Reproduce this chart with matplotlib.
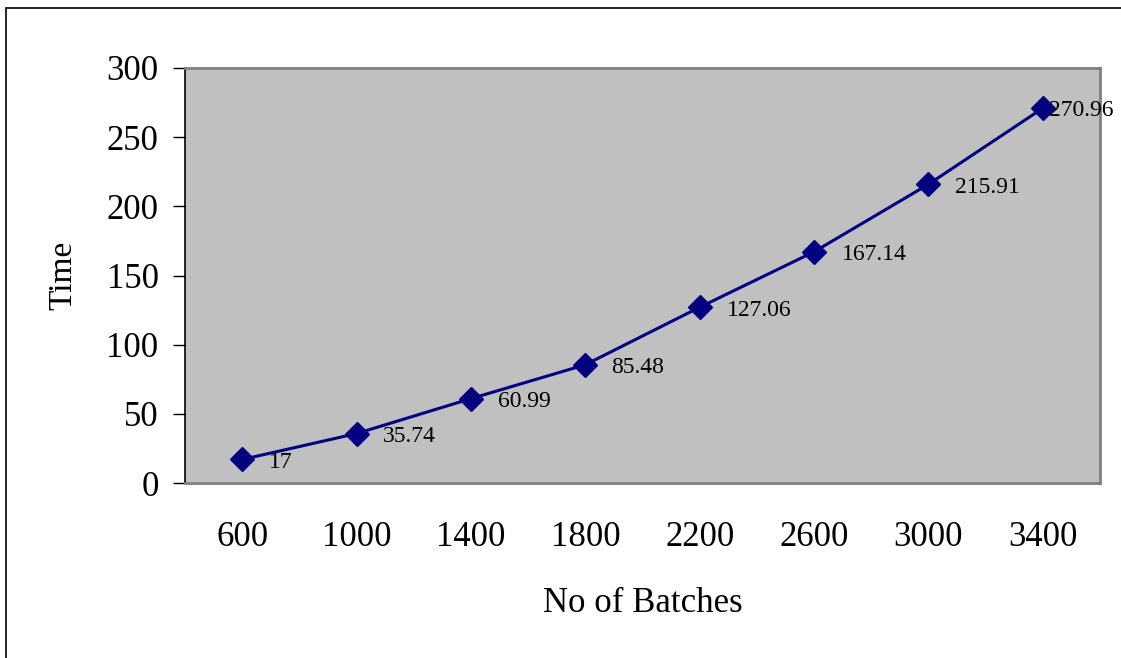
#! /usr/bin/env python3

import matplotlib
matplotlib.use('Agg')
import matplotlib.pyplot as plt
from matplotlib.patches import Rectangle

batches = ['600', '1000', '1400', '1800', '2200', '2600', '3000', '3400']
times = [17, 35.74, 60.99, 85.48, 127.06, 167.14, 215.91, 270.96]
labels = ['17', '35.74', '60.99', '85.48', '127.06', '167.14', '215.91', '270.96']

plt.rcParams['font.family'] = ['Liberation Serif', 'DejaVu Serif']

fig = plt.figure(figsize=(11.21, 6.58), dpi=100)
ax = fig.add_axes([185/1121, 1 - 483/658, 915/1121, 415/658])
ax.set_facecolor('#c0c0c0')

# outer chart frame (cut off at right and bottom)
fig.patches.append(Rectangle((6/1121, -0.1), 2, 1 - 8/658 + 0.1, transform=fig.transFigure,
                             fill=False, edgecolor='black', linewidth=1.2))

x = list(range(len(batches)))
ax.plot(x, times, color='#000080', linewidth=2.2, marker='D', markersize=12,
        markerfacecolor='#000080', markeredgecolor='#000080', zorder=3)

# data labels
dx = [27, 26, 27, 26, 27, 28, 27, 6]
for i, (xi, yi) in enumerate(zip(x, times)):
    ax.annotate(labels[i], (xi, yi), xytext=(dx[i] * 0.72, -2), textcoords='offset points',
                ha='left', va='center', fontsize=17, color='black', annotation_clip=False)

ax.set_xlim(-0.5, 7.5)
ax.set_ylim(0, 300)
ax.set_yticks(range(0, 301, 50))
ax.set_xticks(x)
ax.set_xticklabels(batches)

ax.tick_params(axis='y', length=9, width=1, pad=10, labelsize=25, direction='out')
ax.tick_params(axis='x', length=0, pad=27, labelsize=25)

for s in ['top', 'right', 'bottom']:
    ax.spines[s].set_color('#808080')
    ax.spines[s].set_linewidth(2)
ax.spines['left'].set_color('black')
ax.spines['left'].set_linewidth(1.2)

ax.set_ylabel('Time', fontsize=24, labelpad=20)
ax.set_xlabel('No of Batches', fontsize=25, labelpad=24)

fig.savefig('out.png', dpi=100)
